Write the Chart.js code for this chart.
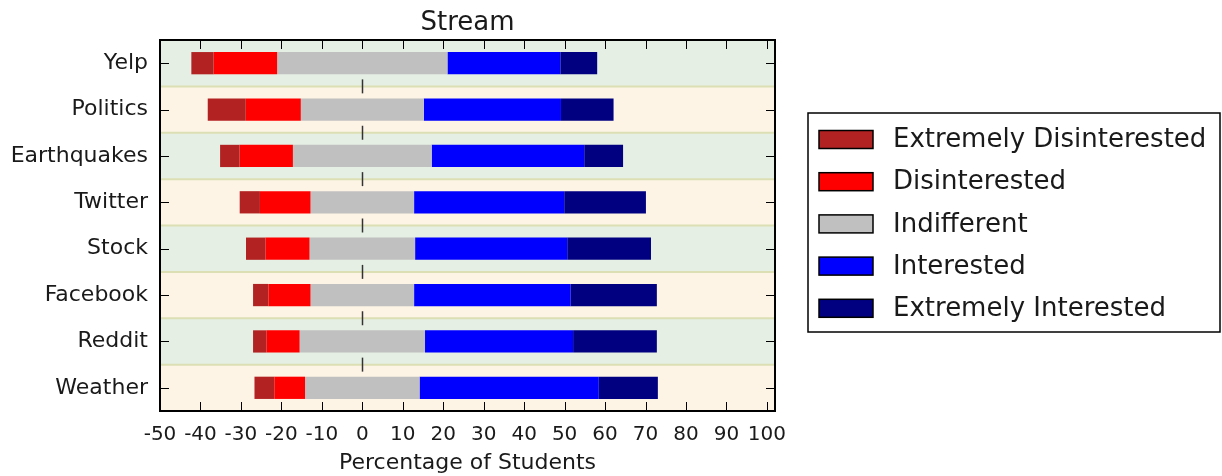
<!DOCTYPE html>
<html>
<head>
<meta charset="utf-8">
<script src="https://cdn.jsdelivr.net/npm/chart.js@4.4.1/dist/chart.umd.min.js"></script>
<style>
  html, body { margin: 0; padding: 0; background: #fff; }
  #wrap { width: 1222px; height: 476px; }
</style>
</head>
<body>
<div id="wrap"><canvas id="streamChart"></canvas></div>
<script>
// topics, top to bottom
const topics = ['Yelp', 'Politics', 'Earthquakes', 'Twitter', 'Stock', 'Facebook', 'Reddit', 'Weather'];

// percentages
const extremelyDisinterested = [5.5, 9.4, 4.8, 5.0, 4.8, 3.8, 3.3, 4.9];
const disinterested = [15.7, 13.6, 13.2, 12.5, 10.9, 10.4, 8.2, 7.6];
const indifferent = [42.1, 30.4, 34.3, 25.6, 26.1, 25.6, 31.0, 28.3];
const interested = [27.9, 33.9, 37.7, 37.1, 37.6, 38.7, 36.6, 44.3];
const extremelyInterested = [9.1, 13.0, 9.6, 20.2, 20.7, 21.3, 20.7, 14.6];

const seriesNames = ['Extremely Disinterested', 'Disinterested', 'Indifferent', 'Interested', 'Extremely Interested'];
const seriesColors = ['#b22222', '#ff0000', '#c0c0c0', '#0000ff', '#000080'];
const xTicks = [-50, -40, -30, -20, -10, 0, 10, 20, 30, 40, 50, 60, 70, 80, 90, 100];

// build floating [start, end] bars, centred on the middle of "Indifferent"
const series = [extremelyDisinterested, disinterested, indifferent, interested, extremelyInterested];
const floating = series.map(() => []);
topics.forEach((t, i) => {
    let start = -(extremelyDisinterested[i] + disinterested[i] + indifferent[i] / 2);
    series.forEach((s, k) => {
        floating[k].push([start, start + s[i]]);
        start += s[i];
    });
});

const datasets = seriesNames.map((name, k) => ({
    label: name,
    data: floating[k],
    backgroundColor: seriesColors[k],
    borderWidth: 0,
    grouped: false,
    categoryPercentage: 1,
    barPercentage: 0.48
}));

const FONT = "'DejaVu Sans', sans-serif";
const TEXT = '#1a1a1a';
const bandColors = ['#e5efe3', '#fdf4e5'];

// background bands, separators and the little marks at zero
const bandsPlugin = {
    id: 'bands',
    beforeDatasetsDraw(chart) {
        const { ctx, chartArea: a, scales: { x, y } } = chart;
        const step = (a.bottom - a.top) / topics.length;
        ctx.save();
        topics.forEach((t, i) => {
            const c = y.getPixelForValue(i);
            ctx.fillStyle = bandColors[i % 2];
            ctx.fillRect(a.left, c - step / 2, a.right - a.left, step);
        });
        ctx.strokeStyle = '#dcdfb4';
        ctx.lineWidth = 2;
        for (let i = 1; i < topics.length; i++) {
            const yy = (y.getPixelForValue(i - 1) + y.getPixelForValue(i)) / 2;
            ctx.beginPath();
            ctx.moveTo(a.left, yy);
            ctx.lineTo(a.right, yy);
            ctx.stroke();
        }
        ctx.restore();
    },
    afterDatasetsDraw(chart) {
        const { ctx, chartArea: a, scales: { x, y } } = chart;
        ctx.save();
        // zero marks on each band boundary
        const x0 = Math.round(x.getPixelForValue(0)) + 0.5;
        ctx.strokeStyle = '#333';
        ctx.lineWidth = 1.5;
        for (let i = 1; i < topics.length; i++) {
            const yy = (y.getPixelForValue(i - 1) + y.getPixelForValue(i)) / 2;
            ctx.beginPath();
            ctx.moveTo(x0, yy - 7);
            ctx.lineTo(x0, yy + 7);
            ctx.stroke();
        }
        // inward ticks
        ctx.strokeStyle = '#000';
        ctx.lineWidth = 1;
        xTicks.forEach(v => {
            const px = Math.round(x.getPixelForValue(v)) + 0.5;
            ctx.beginPath();
            ctx.moveTo(px, a.top);
            ctx.lineTo(px, a.top + 9);
            ctx.moveTo(px, a.bottom);
            ctx.lineTo(px, a.bottom - 9);
            ctx.stroke();
        });
        topics.forEach((t, i) => {
            const py = Math.round(y.getPixelForValue(i)) + 0.5;
            ctx.beginPath();
            ctx.moveTo(a.left, py);
            ctx.lineTo(a.left + 9, py);
            ctx.moveTo(a.right, py);
            ctx.lineTo(a.right - 9, py);
            ctx.stroke();
        });
        // frame
        ctx.lineWidth = 2;
        ctx.strokeRect(a.left, a.top, a.right - a.left, a.bottom - a.top);
        ctx.restore();
    }
};

// legend box to the right of the plot
const legendPlugin = {
    id: 'sideLegend',
    afterDraw(chart) {
        const { ctx, chartArea: a } = chart;
        const boxLeft = a.right + 33, boxTop = 113, boxW = 412, boxH = 219;
        const rowGap = 42.2;
        ctx.save();
        ctx.fillStyle = '#fff';
        ctx.fillRect(boxLeft, boxTop, boxW, boxH);
        ctx.strokeStyle = '#000';
        ctx.lineWidth = 1.5;
        ctx.strokeRect(boxLeft, boxTop, boxW, boxH);
        ctx.font = '26px ' + FONT;
        ctx.textBaseline = 'middle';
        chart.data.datasets.forEach((ds, k) => {
            const cy = boxTop + 26.5 + k * rowGap;
            ctx.fillStyle = ds.backgroundColor;
            ctx.fillRect(boxLeft + 11, cy - 9, 54, 18);
            ctx.strokeStyle = '#000';
            ctx.lineWidth = 1.5;
            ctx.strokeRect(boxLeft + 11, cy - 9, 54, 18);
            ctx.fillStyle = TEXT;
            ctx.fillText(ds.label, boxLeft + 85, cy + 1);
        });
        ctx.restore();
    }
};

new Chart(document.getElementById('streamChart').getContext('2d'), {
    type: 'bar',
    data: { labels: topics, datasets: datasets },
    options: {
        indexAxis: 'y',
        responsive: true,
        maintainAspectRatio: false,
        animation: false,
        layout: { padding: { left: 0, right: 447, top: 0, bottom: 0 } },
        plugins: {
            legend: { display: false },
            tooltip: { enabled: false },
            title: {
                display: true,
                text: 'Stream',
                fullSize: false,
                color: TEXT,
                font: { family: FONT, size: 26, weight: 'normal' },
                padding: { top: 8, bottom: 0.8 }
            }
        },
        scales: {
            x: {
                type: 'linear',
                min: -50,
                max: 102,
                grid: { display: false, drawTicks: false },
                border: { display: false },
                afterBuildTicks: scale => { scale.ticks = xTicks.map(v => ({ value: v })); },
                afterFit: scale => { scale.height = 65; },
                ticks: {
                    autoSkip: false,
                    maxRotation: 0,
                    padding: 12,
                    color: TEXT,
                    font: { family: FONT, size: 20 }
                },
                title: {
                    display: true,
                    text: 'Percentage of Students',
                    color: TEXT,
                    font: { family: FONT, size: 22 },
                    padding: { top: 0, bottom: 0 }
                }
            },
            y: {
                grid: { display: false, drawTicks: false },
                border: { display: false },
                afterFit: scale => { scale.width = 160; },
                ticks: {
                    padding: 12,
                    color: TEXT,
                    font: { family: FONT, size: 22 }
                }
            }
        }
    },
    plugins: [bandsPlugin, legendPlugin]
});
</script>
</body>
</html>
